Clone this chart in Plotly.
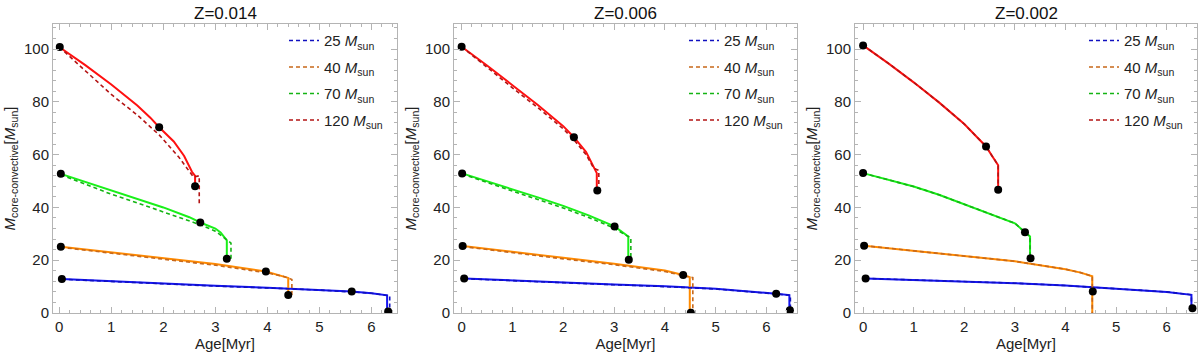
import plotly.graph_objects as go

# ---- data (Age in Myr, convective core mass in Msun) ----
MASSES = ["25", "40", "70", "120"]
TITLES = ["Z=0.014", "Z=0.006", "Z=0.002"]

# Z=0.014
p1_s25_x = [0.05, 1, 2, 3, 4, 5, 5.62, 6, 6.3, 6.3]
p1_s25_y = [12.9, 12.0, 11.1, 10.3, 9.6, 8.8, 8.1, 7.5, 6.7, 0.6]
p1_d25_x = [0.05, 1, 2, 3, 4, 5, 6, 6.35, 6.35]
p1_d25_y = [12.8, 11.9, 11.0, 10.2, 9.5, 8.7, 7.5, 6.5, 1.0]
p1_s40_x = [0.03, 1, 2, 3, 3.97, 4.2, 4.40, 4.40]
p1_s40_y = [25.1, 23.0, 20.8, 18.6, 15.7, 14.5, 13.3, 6.7]
p1_d40_x = [0.03, 1, 2, 3, 4, 4.3, 4.47, 4.47]
p1_d40_y = [24.9, 22.7, 20.4, 18.1, 15.2, 13.9, 12.7, 6.8]
p1_s70_x = [0.03, 0.5, 1, 1.5, 2, 2.5, 2.71, 3.0, 3.1, 3.22, 3.22]
p1_s70_y = [52.7, 49.6, 46.5, 43.3, 40.0, 36.3, 34.3, 32.0, 30.5, 27.5, 20.6]
p1_d70_x = [0.03, 0.5, 1, 1.5, 2, 2.5, 2.7, 3.0, 3.2, 3.3, 3.3]
p1_d70_y = [52.4, 48.7, 45.0, 41.7, 38.3, 35.0, 33.5, 31.0, 28.0, 26.5, 19.5]
p1_s120_x = [0, 0.5, 1, 1.5, 1.75, 1.92, 2.2, 2.4, 2.55, 2.61, 2.61]
p1_s120_y = [100.8, 93.9, 86.6, 78.6, 74.0, 70.4, 65.0, 59.5, 53.5, 52.0, 48.0]
p1_d120_x = [0, 0.5, 1, 1.5, 1.92, 2.3, 2.58, 2.69, 2.69]
p1_d120_y = [100.8, 91.8, 82.8, 75.0, 67.5, 59.0, 51.5, 52.0, 41.5]
p1_dot_x = [0.01, 1.92, 2.61, 0.03, 2.71, 3.22, 0.03, 3.97, 4.40, 0.05, 5.62, 6.32]
p1_dot_y = [100.8, 70.4, 48.0, 52.8, 34.3, 20.6, 25.1, 15.7, 6.8, 12.9, 8.1, 0.6]

# Z=0.006
p2_s25_x = [0.05, 1, 2, 3, 4, 5, 6.19, 6.45, 6.45]
p2_s25_y = [13.1, 12.3, 11.5, 10.8, 10.1, 9.2, 7.3, 6.8, 1.0]
p2_d25_x = [0.05, 1, 2, 3, 4, 5, 6.2, 6.47, 6.47]
p2_d25_y = [13.0, 12.2, 11.4, 10.7, 10.0, 9.1, 7.2, 6.7, 1.0]
p2_s40_x = [0.02, 1, 2, 3, 4, 4.36, 4.49, 4.49]
p2_s40_y = [25.4, 23.1, 20.9, 18.7, 16.1, 14.4, 13.6, 0]
p2_d40_x = [0.02, 1, 2, 3, 4, 4.4, 4.55, 4.55]
p2_d40_y = [25.2, 22.8, 20.5, 18.3, 15.7, 14.0, 13.4, 0]
p2_s70_x = [0.01, 0.5, 1, 1.5, 2, 2.5, 3.01, 3.2, 3.28, 3.28]
p2_s70_y = [52.9, 50.0, 46.9, 43.8, 40.6, 37.0, 32.8, 30.2, 29.0, 20.2]
p2_d70_x = [0.01, 0.5, 1, 1.5, 2, 2.5, 3.0, 3.2, 3.33, 3.33]
p2_d70_y = [52.7, 49.4, 46.2, 43.0, 39.8, 36.2, 32.2, 29.8, 28.5, 21.0]
p2_s120_x = [0, 0.5, 1, 1.5, 2, 2.21, 2.45, 2.6, 2.66, 2.66]
p2_s120_y = [100.9, 93.8, 86.3, 78.8, 70.8, 66.6, 61.0, 55.5, 53.0, 46.5]
p2_d120_x = [0, 0.5, 1, 1.5, 2, 2.21, 2.45, 2.6, 2.70, 2.70]
p2_d120_y = [100.9, 93.0, 85.3, 77.8, 69.8, 65.6, 60.0, 54.8, 54.0, 47.0]
p2_dot_x = [0.0, 2.21, 2.67, 0.01, 3.01, 3.29, 0.02, 4.36, 4.51, 0.05, 6.19, 6.46]
p2_dot_y = [100.9, 66.6, 46.4, 52.9, 32.8, 20.2, 25.4, 14.4, 0.1, 13.1, 7.3, 1.0]

# Z=0.002 (dashed tracks sit on top of the solid ones)
p3_s25_x = [0.05, 1, 2, 3, 4, 4.5, 5, 6, 6.49, 6.49]
p3_s25_y = [13.1, 12.6, 12.0, 11.3, 10.4, 9.8, 9.2, 8.0, 6.9, 1.9]
p3_s40_x = [0.02, 1, 2, 3, 4, 4.3, 4.53, 4.53]
p3_s40_y = [25.5, 23.6, 21.6, 19.6, 16.6, 15.3, 13.9, 0]
p3_s70_x = [0, 0.5, 1, 1.5, 2, 2.5, 3, 3.2, 3.3, 3.3]
p3_s70_y = [53.0, 50.5, 47.9, 44.8, 41.2, 37.8, 34.0, 30.6, 29.0, 20.7]
p3_s120_x = [0, 0.5, 1, 1.5, 2, 2.2, 2.43, 2.55, 2.67, 2.67]
p3_s120_y = [101.4, 94.6, 87.4, 79.8, 71.6, 67.8, 63.1, 59.5, 56.0, 46.0]
p3_dot_x = [0.0, 2.43, 2.67, 0.0, 3.2, 3.31, 0.02, 4.54, 0.05, 6.51]
p3_dot_y = [101.4, 63.1, 46.7, 53.0, 30.6, 20.7, 25.5, 8.1, 13.1, 1.8]

SOLID_COL = {"25": "#1414f0", "40": "#ff8a00", "70": "#19f019", "120": "#ff1010"}
DASH_COL = {"25": "#1010c0", "40": "#c8681a", "70": "#14b414", "120": "#b41414"}

panels = [
    {
        "solid": {"25": (p1_s25_x, p1_s25_y), "40": (p1_s40_x, p1_s40_y),
                  "70": (p1_s70_x, p1_s70_y), "120": (p1_s120_x, p1_s120_y)},
        "dash": {"25": (p1_d25_x, p1_d25_y), "40": (p1_d40_x, p1_d40_y),
                 "70": (p1_d70_x, p1_d70_y), "120": (p1_d120_x, p1_d120_y)},
        "dots": (p1_dot_x, p1_dot_y), "xrange": [-0.12, 6.49],
    },
    {
        "solid": {"25": (p2_s25_x, p2_s25_y), "40": (p2_s40_x, p2_s40_y),
                  "70": (p2_s70_x, p2_s70_y), "120": (p2_s120_x, p2_s120_y)},
        "dash": {"25": (p2_d25_x, p2_d25_y), "40": (p2_d40_x, p2_d40_y),
                 "70": (p2_d70_x, p2_d70_y), "120": (p2_d120_x, p2_d120_y)},
        "dots": (p2_dot_x, p2_dot_y), "xrange": [-0.15, 6.6],
    },
    {
        "solid": {"25": (p3_s25_x, p3_s25_y), "40": (p3_s40_x, p3_s40_y),
                  "70": (p3_s70_x, p3_s70_y), "120": (p3_s120_x, p3_s120_y)},
        "dash": {"25": (p3_s25_x, p3_s25_y), "40": (p3_s40_x, p3_s40_y),
                 "70": (p3_s70_x, p3_s70_y), "120": (p3_s120_x, p3_s120_y)},
        "dots": (p3_dot_x, p3_dot_y), "xrange": [-0.16, 6.6],
    },
]

W, H = 1200, 360
DOMAINS_PX = [(53, 397), (454, 797), (855, 1197)]
FONT = "Liberation Sans, Arial, sans-serif"

fig = go.Figure()

for i, p in enumerate(panels):
    n = "" if i == 0 else str(i + 1)
    xa, ya, lg = "x" + n, "y" + n, "legend" + n
    for m in MASSES:
        sx, sy = p["solid"][m]
        fig.add_trace(go.Scatter(x=sx, y=sy, mode="lines", xaxis=xa, yaxis=ya,
                                 line=dict(color=SOLID_COL[m], width=2),
                                 showlegend=False, legendgroup=m + n, hoverinfo="skip"))
    for m in MASSES:
        dx, dy = p["dash"][m]
        fig.add_trace(go.Scatter(x=dx, y=dy, mode="lines", xaxis=xa, yaxis=ya,
                                 line=dict(color=DASH_COL[m], width=1.6, dash="4px,3px"),
                                 name=f"{m} <i>M</i><sub>sun</sub>",
                                 legend=lg, legendgroup=m + n))
    fig.add_trace(go.Scatter(x=p["dots"][0], y=p["dots"][1], mode="markers",
                             xaxis=xa, yaxis=ya, showlegend=False,
                             marker=dict(color="black", size=8)))

axis_common = dict(
    showline=True, mirror="ticks", linecolor="#b4b4b4", linewidth=1,
    ticks="inside", ticklen=6, tickcolor="#b4b4b4", showgrid=False, zeroline=False,
    tickfont=dict(size=15, color="#222"), automargin=False,
)

layout = dict(
    width=W, height=H, plot_bgcolor="white", paper_bgcolor="white",
    margin=dict(l=0, r=0, t=24, b=47),
    font=dict(family=FONT, color="#222"),
    annotations=[],
)

for i, p in enumerate(panels):
    n = "" if i == 0 else str(i + 1)
    a, b = DOMAINS_PX[i]
    layout["xaxis" + n] = dict(
        axis_common, domain=[a / W, b / W], range=p["xrange"], anchor="y" + n,
        dtick=1, minor=dict(dtick=0.2, ticks="inside", ticklen=3, tickcolor="#b4b4b4"),
        title=dict(text="Age[Myr]", font=dict(size=15, color="#222"), standoff=2),
    )
    layout["yaxis" + n] = dict(
        axis_common, range=[0, 109.5], anchor="x" + n, dtick=20,
        minor=dict(dtick=4, ticks="inside", ticklen=3, tickcolor="#b4b4b4"),
        title=dict(text="<i>M</i><sub>core-convective</sub>[<i>M</i><sub>sun</sub>]",
                   font=dict(size=15, color="#222"), standoff=4),
    )
    layout["legend" + n] = dict(
        x=(b - 113) / W, y=0.999, xanchor="left", yanchor="top",
        font=dict(size=15, color="#222"), bgcolor="rgba(0,0,0,0)",
        tracegroupgap=4, itemwidth=30,
    )
    layout["annotations"].append(dict(
        text=TITLES[i], x=(a + b) / 2 / W, y=1, xref="paper", yref="paper",
        xanchor="center", yanchor="bottom", yshift=-1, showarrow=False,
        font=dict(size=17, color="#111"),
    ))

fig.update_layout(**layout)
# drop the browser's default 8px body margin so the figure sits at the page origin
fig.write_html("out.html", config={"displayModeBar": False},
               post_script="document.body.style.margin='0';")
